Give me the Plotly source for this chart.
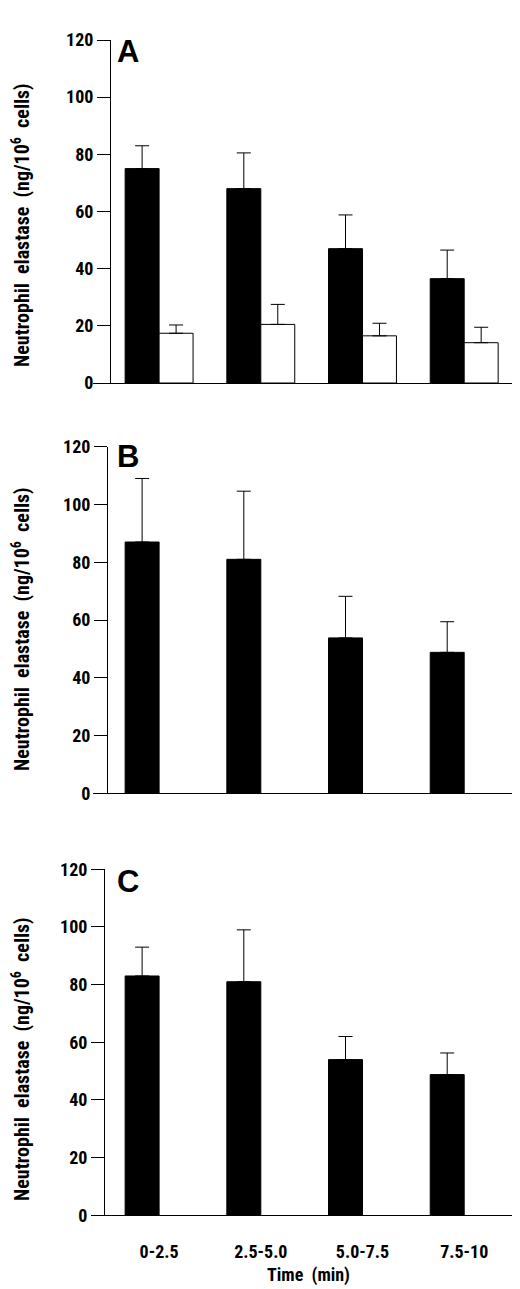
import plotly.graph_objects as go

# time windows (min)
periods = ['0-2.5', '2.5-5.0', '5.0-7.5', '7.5-10']

# panel A: black and white bars
a_black = [75, 68, 47, 36.5]
a_black_err = [8, 12.5, 11.8, 10]
a_white = [17.4, 20.5, 16.5, 14.1]
a_white_err = [2.9, 7, 4.4, 5.4]

# panel B
b_black = [87, 81, 53.8, 48.8]
b_black_err = [22, 23.6, 14.4, 10.6]

# panel C
c_black = [83, 81, 54, 48.8]
c_black_err = [10, 18, 8, 7.5]

W = 0.334
font_tick = 'Liberation Sans Narrow, Roboto Condensed, Liberation Sans, Arial'
font_bold = 'Liberation Sans, Arial'

fig = go.Figure()

xs = list(range(len(periods)))


def black_bars(vals, errs, n):
    xa = 'x' if n == 1 else 'x%d' % n
    ya = 'y' if n == 1 else 'y%d' % n
    return go.Bar(
        x=xs, y=vals, width=W, offset=-W,
        marker=dict(color='black', line=dict(color='black', width=1)),
        error_y=dict(type='data', array=errs, arrayminus=[0]*len(errs), symmetric=False,
                     color='black', thickness=1, width=7),
        xaxis=xa, yaxis=ya, showlegend=False)


fig.add_trace(black_bars(a_black, a_black_err, 1))
fig.add_trace(go.Bar(
    x=xs, y=a_white, width=W, offset=0,
    marker=dict(color='white', line=dict(color='black', width=1)),
    error_y=dict(type='data', array=a_white_err, arrayminus=[0]*4, symmetric=False,
                 color='black', thickness=1, width=7),
    xaxis='x', yaxis='y', showlegend=False))
fig.add_trace(black_bars(b_black, b_black_err, 2))
fig.add_trace(black_bars(c_black, c_black_err, 3))

# page has an 8px body margin; figure is placed at (8, 8)
H = 1281.0


def py(v):
    return 1 - (v - 8) / H


def px(v):
    return (v - 93) / 420.0


doms = [[py(383), py(40)], [py(793.3), py(446.7)], [py(1215.3), py(869.3)]]
ypos = [px(110), px(107), px(104)]

layout = dict(
    width=512, height=1281,
    margin=dict(l=85, r=7, t=0, b=0),
    plot_bgcolor='white', paper_bgcolor='white',
    barmode='overlay',
)

for i in range(3):
    n = '' if i == 0 else str(i + 1)
    layout['xaxis' + n] = dict(
        domain=[0, 1], range=[-0.65, 3.48], anchor='y' + n,
        showline=True, linecolor='black', linewidth=1,
        showgrid=False, zeroline=False, ticks='',
        tickvals=xs, ticktext=periods if i == 2 else [''] * 4,
        showticklabels=(i == 2), ticklabelstandoff=20,
        tickfont=dict(family=font_tick, size=18, color='black', weight='bold'),
        fixedrange=True, automargin=False,
    )
    layout['yaxis' + n] = dict(
        domain=doms[i], range=[0, 120], anchor='free', position=ypos[i],
        showline=True, linecolor='black', linewidth=1,
        showgrid=False, zeroline=False,
        ticks='outside', ticklen=13, tickwidth=1, tickcolor='black',
        tickvals=[0, 20, 40, 60, 80, 100, 120],
        tickfont=dict(family=font_tick, size=18, color='black', weight='bold'),
        fixedrange=True, automargin=False,
    )

fig.update_layout(**layout)

ytitle = 'Neutrophil\u00a0\u00a0elastase\u00a0\u00a0(ng/10<sup>6</sup>\u00a0\u00a0cells)'
ycent = [225, 629, 1059]
letters = ['A', 'B', 'C']
lety = [51, 457, 881]
for i in range(3):
    fig.add_annotation(text=ytitle, textangle=-90, xref='paper', yref='paper',
                       x=px(21), y=py(ycent[i]), showarrow=False,
                       xanchor='center', yanchor='middle',
                       font=dict(family=font_tick, size=20, color='black', weight='bold'))
    fig.add_annotation(text=letters[i], xref='paper', yref='paper',
                       x=px(128), y=py(lety[i]), showarrow=False,
                       xanchor='center', yanchor='middle',
                       font=dict(family=font_bold, size=31, color='black', weight='bold'))

fig.add_annotation(text='Time\u00a0\u00a0(min)', xref='paper', yref='paper',
                   x=px(308), y=py(1275), showarrow=False,
                   xanchor='center', yanchor='middle',
                   font=dict(family=font_tick, size=18, color='black', weight='bold'))

fig.write_html('out.html')
